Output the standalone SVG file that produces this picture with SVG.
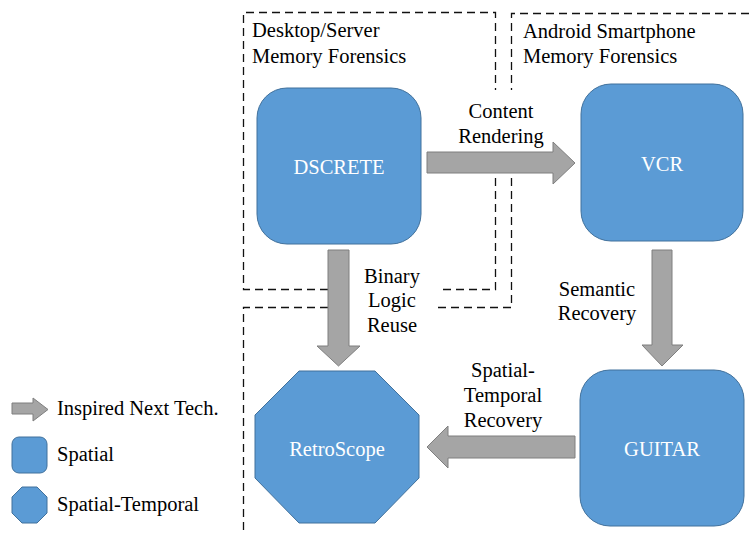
<svg xmlns="http://www.w3.org/2000/svg" width="749" height="533" viewBox="0 0 749 533">
  <style>
    text { font-family: "Liberation Serif", "Times New Roman", serif; font-size: 20.5px; fill: #000; }
    .lbl { text-anchor: middle; }
    .node { fill: #5b9bd5; stroke: #41719c; stroke-width: 1; }
    .name { fill: #ffffff; text-anchor: middle; }
    .arrow { fill: #a5a5a5; stroke: #7f7f7f; stroke-width: 1; }
    .region { fill: none; stroke: #111; stroke-width: 1.3; stroke-dasharray: 8 5; }
  </style>
  <rect width="749" height="533" fill="#ffffff"/>

  <!-- Domain regions (borders break around the connector labels) -->
  <g id="regions">
    <path class="region" d="M328,289.5 H243.5 V12.5 H495.5 V90 M495.5,152 V289.5 H438"/>
    <path class="region" d="M749,13.5 H511.5 V90 M511.5,152 V307.5 H438"/>
    <path class="region" d="M328,307.5 H243.5 V533"/>
    <text x="252" y="37">Desktop/Server</text>
    <text x="252" y="63">Memory Forensics</text>
    <text x="523" y="38">Android Smartphone</text>
    <text x="523" y="63">Memory Forensics</text>
  </g>

  <!-- Nodes -->
  <g id="dscrete">
    <rect class="node" x="257" y="88" width="164" height="156" rx="30"/>
    <text class="name" x="339" y="174">DSCRETE</text>
  </g>
  <g id="vcr">
    <rect class="node" x="581" y="84" width="162" height="157" rx="30"/>
    <text class="name" x="662" y="171">VCR</text>
  </g>
  <g id="guitar">
    <rect class="node" x="580" y="370" width="164" height="156" rx="30"/>
    <text class="name" x="662" y="456">GUITAR</text>
  </g>
  <g id="retroscope">
    <polygon class="node" points="299,371 375,371 419,415 419,478 375,523 299,523 255,478 255,415"/>
    <text class="name" x="337" y="456">RetroScope</text>
  </g>

  <!-- Connectors -->
  <g id="connectors">
    <polygon class="arrow" points="427,152 553,152 553,142 575,163 553,184 553,173 427,173"/>
    <text class="lbl" x="501" y="118">Content</text>
    <text class="lbl" x="501" y="143">Rendering</text>

    <polygon class="arrow" points="328,250 349,250 349,346 360,346 338.5,366 317,346 328,346"/>
    <text class="lbl" x="392" y="283">Binary</text>
    <text class="lbl" x="392" y="307">Logic</text>
    <text class="lbl" x="392" y="332">Reuse</text>

    <polygon class="arrow" points="652,250 672,250 672,345 683,345 662,366 642,345 652,345"/>
    <text class="lbl" x="597" y="296">Semantic</text>
    <text class="lbl" x="597" y="320">Recovery</text>

    <polygon class="arrow" points="575,436 448,436 448,426 427,447 448,468 448,458 575,458"/>
    <text class="lbl" x="503" y="377">Spatial-</text>
    <text class="lbl" x="503" y="402">Temporal</text>
    <text class="lbl" x="503" y="427">Recovery</text>
  </g>

  <!-- Legend -->
  <g id="legend">
    <polygon class="arrow" points="12,403 33,403 33,398 48,409.5 33,421 33,414 12,414"/>
    <text x="57" y="415">Inspired Next Tech.</text>
    <rect class="node" x="12" y="437" width="35" height="36" rx="7"/>
    <text x="57" y="461">Spatial</text>
    <polygon class="node" points="22,487 37,487 47,497 47,513 37,523 22,523 12,513 12,497"/>
    <text x="57" y="511">Spatial-Temporal</text>
  </g>
</svg>
